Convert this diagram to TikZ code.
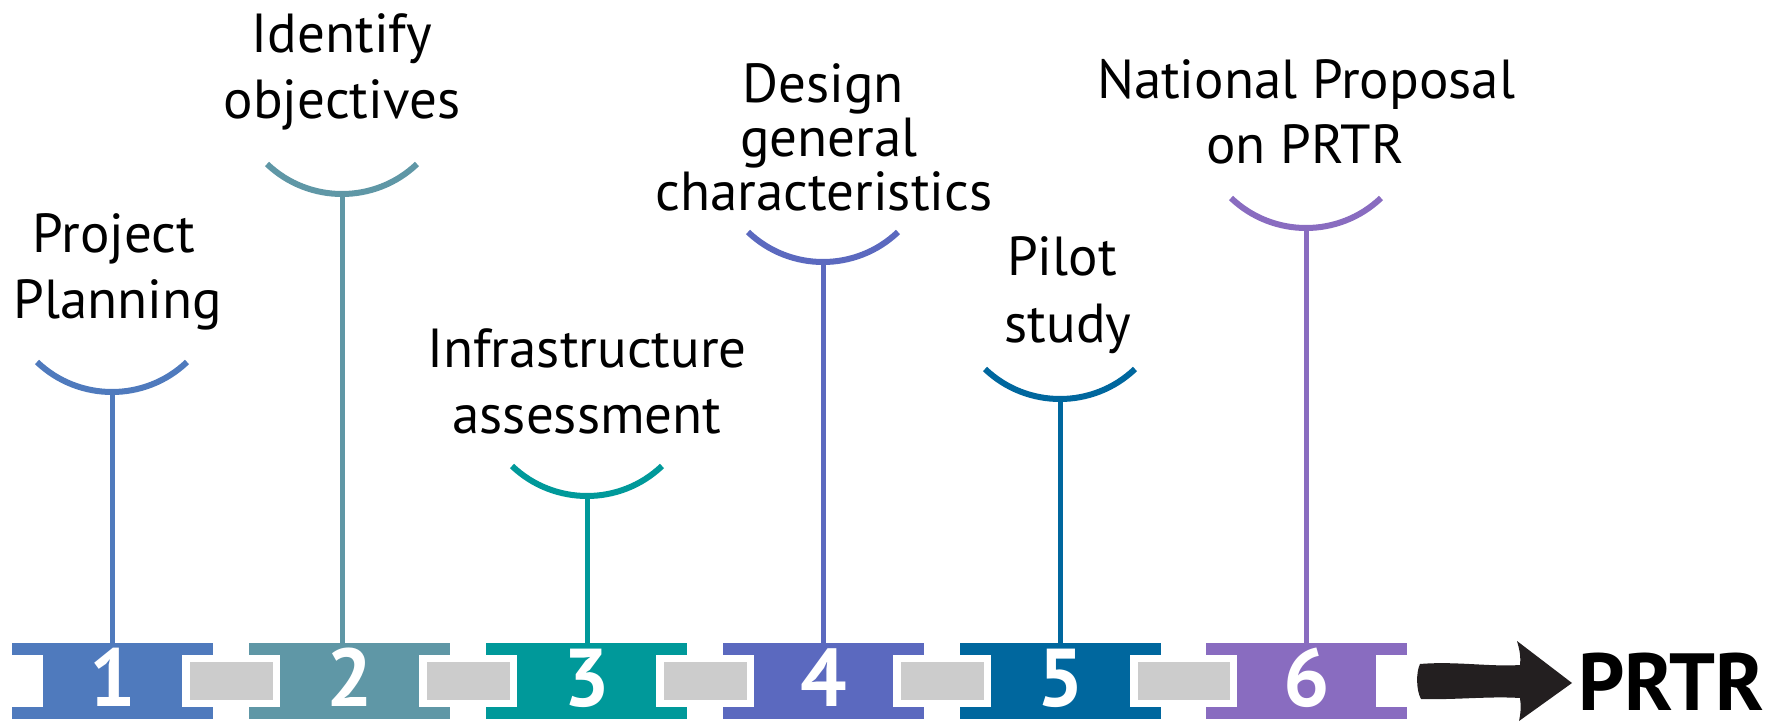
\documentclass[tikz,border=0pt]{standalone}
\usepackage{fontspec}
\setmainfont{PT Sans}
\definecolor{c1}{HTML}{4F7ABD}
\definecolor{c2}{HTML}{5F97A6}
\definecolor{c3}{HTML}{00999A}
\definecolor{c4}{HTML}{5B69BF}
\definecolor{c5}{HTML}{00679E}
\definecolor{c6}{HTML}{896CC0}
\definecolor{gr}{HTML}{CCCCCC}
\definecolor{arr}{HTML}{231F20}
\begin{document}
\begin{tikzpicture}[x=1pt,y=-1pt,
  lbl/.style={anchor=base,font=\fontsize{55}{66}\selectfont,inner sep=0pt},
  blk/.style={fill=#1,draw=none,minimum width=201pt,minimum height=76pt,inner sep=0pt},
  digit/.style={anchor=base,inner sep=0pt,text=white,font=\fontsize{82}{86}\selectfont\bfseries},
  cupline/.style={draw=#1,line width=6pt},
  stemline/.style={draw=#1,line width=5pt},
  link/.style={fill=gr,draw=none}]
\useasboundingbox (0,0) rectangle (1781,721);
% blocks
\node[blk=c1] (b1) at (112.5,681) {};
\node[blk=c2] (b2) at (349.5,681) {};
\node[blk=c3] (b3) at (586.5,681) {};
\node[blk=c4] (b4) at (823.5,681) {};
\node[blk=c5] (b5) at (1060.5,681) {};
\node[blk=c6] (b6) at (1306.5,681) {};
\foreach \l in {12,249,486,723,960,1206}{
  \fill[white] (\l,655) rectangle (\l+31,707);
  \fill[white] (\l+170,655) rectangle (\l+201,707);
}
% links
\foreach \a/\b in {12/249,249/486,486/723,723/960,960/1206}{
  \fill[link] (\a+178,662) rectangle (\b+24,700);
}
% digits
\foreach \i in {1,...,6}{
  \node[digit] (d\i) at (b\i.center |- 0,706) {\i};
}
% cups
\coordinate (cup1) at (112,392);
\coordinate (cup2) at (342,194);
\coordinate (cup3) at (587,496);
\coordinate (cup4) at (823,262);
\coordinate (cup5) at (1060,399);
\coordinate (cup6) at (1306,228);
\foreach \i in {1,...,6}{
  \draw[cupline=c\i] (cup\i) ++(-75,-30) arc[start angle=133.6,end angle=46.4,radius=108.75];
  \draw[stemline=c\i] (cup\i) -- (cup\i |- b\i.north);
}
% labels
\node[lbl] (l1a) at (114,252) {Project};
\node[lbl] (l1b) at (118,318) {Planning};
\node[lbl] (l2a) at (342,52) {Identify};
\node[lbl] (l2b) at (342,118) {objectives};
\node[lbl] (l3a) at (587,367) {Infrastructure};
\node[lbl] (l3b) at (587,433) {assessment};
\node[lbl] (l4a) at (823,102) {Design};
\node[lbl] (l4b) at (829,156) {general};
\node[lbl] (l4c) at (824,210) {characteristics};
\node[lbl] (l5a) at (1062,275) {Pilot};
\node[lbl] (l5b) at (1068,342) {study};
\node[lbl] (l6a) at (1306,98) {National Proposal};
\node[lbl] (l6b) at (1305,163) {on PRTR};
% arrow and PRTR
\node[anchor=base west,inner sep=0pt,font=\fontsize{81}{90}\selectfont\bfseries] (prtr) at (1578,710) {PRTR};
\fill[arr] (1420,664) .. controls (1455,661) and (1490,667) .. (1520,665)
  .. controls (1521,655) and (1519,648) .. (1517,641) -- (1572,683) -- (1519,721)
  .. controls (1521,712) and (1521,705) .. (1520,698)
  .. controls (1490,696) and (1455,700) .. (1421,699)
  .. controls (1416,690) and (1416,672) .. cycle;
\end{tikzpicture}
\end{document}
